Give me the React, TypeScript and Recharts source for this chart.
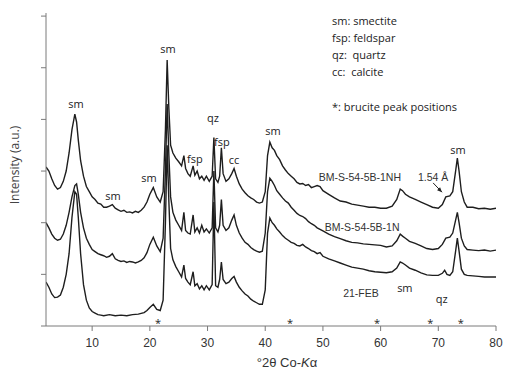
import { LineChart, Line, XAxis, YAxis, ReferenceDot, ReferenceLine } from "recharts"

// 2θ (°) and intensity (a.u., offset traces)
const trace1NH: [number, number][] = [
  [2, 3.08], [2.5, 3.0], [3, 2.85], [3.5, 2.72], [4, 2.65], [4.5, 2.68], [5, 2.8], [5.5, 3.0], [6, 3.35], [6.5, 3.8],
  [7, 4.1], [7.3, 3.95], [7.6, 3.6], [8, 3.2], [8.5, 2.9], [9, 2.7], [9.5, 2.6], [10, 2.5], [10.5, 2.45], [11, 2.38],
  [11.5, 2.36], [12, 2.3], [12.5, 2.3], [13, 2.32], [13.5, 2.35], [14, 2.28], [14.5, 2.25], [15, 2.22], [15.5, 2.24],
  [16, 2.2], [16.5, 2.21], [17, 2.19], [17.5, 2.22], [18, 2.2], [18.5, 2.24], [19, 2.3], [19.5, 2.4], [20, 2.55],
  [20.6, 2.68], [21.2, 2.5], [21.8, 2.4], [22.3, 2.6], [22.7, 3.8], [23, 5.15], [23.3, 4.2], [23.6, 3.5], [24, 3.35],
  [24.5, 3.25], [25, 3.18], [25.5, 3.1], [25.9, 3.3], [26.2, 3.05], [26.6, 2.95], [27, 2.9], [27.5, 3.1], [27.8, 2.92],
  [28.2, 3.0], [28.6, 2.85], [29, 2.9], [29.4, 2.82], [29.8, 2.9], [30.3, 2.8], [30.8, 2.9], [31.1, 3.65], [31.4, 2.85],
  [31.8, 2.78], [32.1, 2.9], [32.4, 3.45], [32.7, 2.95], [33.2, 2.8], [33.7, 2.85], [34.2, 2.95], [34.6, 3.05],
  [35, 2.9], [35.5, 2.75], [36, 2.65], [36.5, 2.58], [37, 2.52], [37.5, 2.48], [38, 2.45], [38.5, 2.4], [39, 2.38],
  [39.5, 2.4], [40, 2.6], [40.4, 3.3], [40.8, 3.56], [41.2, 3.45], [41.6, 3.4], [42, 3.3], [42.5, 3.22], [43, 3.1],
  [43.5, 3.02], [44, 2.95], [44.5, 2.9], [45, 2.85], [45.5, 2.78], [46, 2.75], [46.5, 2.76], [47, 2.72], [47.5, 2.74],
  [48, 2.68], [48.5, 2.7], [49, 2.72], [49.5, 2.7], [50, 2.62], [51, 2.55], [52, 2.48], [53, 2.42], [54, 2.4],
  [55, 2.36], [56, 2.34], [57, 2.32], [58, 2.3], [59, 2.3], [60, 2.28], [61, 2.28], [62, 2.32], [62.8, 2.45],
  [63.4, 2.65], [63.8, 2.62], [64.3, 2.55], [65, 2.5], [66, 2.45], [67, 2.4], [68, 2.35], [69, 2.3], [70, 2.28],
  [70.7, 2.35], [71.3, 2.5], [72, 2.52], [72.5, 2.6], [73, 3.0], [73.3, 3.25], [73.6, 3.0], [74, 2.6], [74.5, 2.4],
  [75, 2.3], [76, 2.3], [77, 2.27], [78, 2.28], [79, 2.26], [80, 2.28],
]

const trace1N: [number, number][] = [
  [2, 2.0], [2.5, 1.9], [3, 1.78], [3.5, 1.7], [4, 1.66], [4.5, 1.68], [5, 1.78], [5.5, 1.95], [6, 2.2], [6.5, 2.5],
  [7, 2.72], [7.3, 2.75], [7.6, 2.55], [8, 2.2], [8.5, 1.9], [9, 1.7], [9.5, 1.58], [10, 1.48], [10.5, 1.44], [11, 1.4],
  [11.5, 1.38], [12, 1.36], [12.5, 1.33], [13, 1.35], [13.5, 1.4], [14, 1.3], [14.5, 1.27], [15, 1.25], [15.5, 1.26],
  [16, 1.23], [16.5, 1.25], [17, 1.24], [17.5, 1.22], [18, 1.24], [18.5, 1.27], [19, 1.32], [19.5, 1.42], [20, 1.58],
  [20.6, 1.72], [21.2, 1.55], [21.8, 1.44], [22.3, 1.7], [22.7, 3.0], [23, 4.3], [23.3, 3.3], [23.6, 2.5], [24, 2.2],
  [24.5, 2.05], [25, 1.95], [25.5, 1.85], [25.9, 2.2], [26.2, 1.85], [26.6, 1.8], [27, 1.78], [27.5, 2.15], [27.8, 1.82],
  [28.2, 1.9], [28.6, 1.8], [29, 1.95], [29.4, 1.82], [29.8, 1.88], [30.3, 1.8], [30.8, 1.9], [31.1, 3.0], [31.4, 1.9],
  [31.8, 1.82], [32.1, 1.95], [32.4, 2.45], [32.7, 1.95], [33.2, 1.85], [33.7, 1.9], [34.2, 2.05], [34.6, 2.15],
  [35, 1.95], [35.5, 1.8], [36, 1.7], [36.5, 1.62], [37, 1.58], [37.5, 1.52], [38, 1.48], [38.5, 1.45], [39, 1.43],
  [39.5, 1.45], [40, 1.8], [40.4, 2.6], [40.8, 2.86], [41.2, 2.8], [41.6, 2.72], [42, 2.62], [42.5, 2.55], [43, 2.48],
  [43.5, 2.42], [44, 2.38], [44.5, 2.3], [45, 2.24], [45.5, 2.18], [46, 2.14], [46.5, 2.12], [47, 2.08], [47.5, 2.02],
  [48, 1.98], [48.5, 1.95], [49, 1.9], [49.5, 1.87], [50, 1.84], [51, 1.78], [52, 1.73], [53, 1.69], [54, 1.65],
  [55, 1.62], [56, 1.61], [57, 1.59], [58, 1.58], [59, 1.57], [60, 1.56], [61, 1.53], [62, 1.55], [62.8, 1.65],
  [63.4, 1.78], [63.8, 1.74], [64.3, 1.7], [65, 1.64], [66, 1.6], [67, 1.55], [68, 1.5], [69, 1.48], [70, 1.5],
  [70.7, 1.58], [71.3, 1.7], [72, 1.72], [72.5, 1.8], [73, 2.05], [73.3, 2.2], [73.6, 2.0], [74, 1.7], [74.5, 1.55],
  [75, 1.48], [76, 1.47], [77, 1.46], [78, 1.47], [79, 1.45], [80, 1.47],
]

const trace21FEB: [number, number][] = [
  [2, 0.85], [2.5, 0.75], [3, 0.62], [3.5, 0.55], [4, 0.56], [4.5, 0.6], [5, 0.75], [5.5, 1.0], [6, 1.4], [6.5, 2.1],
  [7, 2.6], [7.3, 2.55], [7.6, 2.1], [8, 1.4], [8.5, 0.8], [9, 0.5], [9.5, 0.35], [10, 0.28], [10.5, 0.25], [11, 0.22],
  [11.5, 0.21], [12, 0.2], [13, 0.22], [14, 0.2], [15, 0.21], [16, 0.2], [17, 0.22], [18, 0.23], [19, 0.26],
  [19.5, 0.3], [20, 0.36], [20.6, 0.42], [21.2, 0.32], [21.8, 0.3], [22.3, 0.5], [22.7, 2.0], [23, 3.5], [23.3, 2.4],
  [23.6, 1.5], [24, 1.28], [24.5, 1.15], [25, 1.05], [25.5, 0.95], [25.9, 1.18], [26.2, 0.92], [26.6, 0.85], [27, 0.8],
  [27.5, 1.05], [27.8, 0.78], [28.2, 0.82], [28.6, 0.72], [29, 0.78], [29.4, 0.7], [29.8, 0.78], [30.3, 0.7],
  [30.8, 0.8], [31.1, 2.4], [31.4, 0.78], [31.8, 0.75], [32.1, 0.9], [32.4, 1.24], [32.7, 0.9], [33.2, 0.82],
  [33.7, 0.85], [34.2, 0.92], [34.6, 0.96], [35, 0.85], [35.5, 0.75], [36, 0.68], [36.5, 0.62], [37, 0.58],
  [37.5, 0.52], [38, 0.48], [38.5, 0.45], [39, 0.42], [39.5, 0.42], [40, 0.7], [40.4, 1.8], [40.8, 2.09], [41.2, 2.0],
  [41.6, 1.95], [42, 1.88], [42.5, 1.82], [43, 1.75], [43.5, 1.7], [44, 1.66], [44.5, 1.62], [45, 1.6], [45.5, 1.56],
  [46, 1.55], [46.5, 1.58], [47, 1.53], [47.5, 1.5], [48, 1.46], [48.5, 1.44], [49, 1.4], [49.5, 1.42], [50, 1.35],
  [51, 1.3], [52, 1.26], [53, 1.22], [54, 1.18], [55, 1.14], [56, 1.12], [57, 1.1], [58, 1.07], [59, 1.05], [60, 1.04],
  [61, 1.03], [62, 1.05], [62.8, 1.12], [63.4, 1.24], [63.8, 1.22], [64.3, 1.18], [65, 1.12], [66, 1.08], [67, 1.03],
  [68, 0.99], [69, 0.98], [70, 0.98], [70.7, 1.02], [71.1, 1.08], [71.5, 1.0], [72, 0.98], [72.5, 1.05], [73, 1.45],
  [73.3, 1.7], [73.6, 1.45], [74, 1.1], [74.5, 1.0], [75, 0.98], [76, 0.97], [77, 0.96], [78, 0.95], [79, 0.95],
  [80, 0.95],
]

const xTicks = [10, 20, 30, 40, 50, 60, 70, 80]
const yTicks = [0, 1, 2, 3, 4, 5, 6]

// phase labels: [text, 2θ, intensity]
const peakLabels: [string, number, number][] = [
  ["sm", 7.2, 4.3], ["sm", 13.6, 2.52], ["sm", 19.85, 2.87], ["sm", 23.15, 5.36], ["fsp", 27.8, 3.23],
  ["qz", 30.95, 4.03], ["fsp", 32.5, 3.56], ["cc", 34.6, 3.21], ["sm", 41.35, 3.78], ["sm", 73.4, 3.41],
  ["sm", 64.2, 0.74], ["qz", 70.6, 0.52],
]
const sampleLabels: [string, number, number][] = [
  ["BM-S-54-5B-1NH", 56.4, 2.87], ["BM-S-54-5B-1N", 56.8, 1.92], ["21-FEB", 56.6, 0.64], ["1.54 Å", 69.1, 2.87],
]
const bruciteAt = [21.4, 44.3, 59.4, 68.6, 73.9]
const arrowFrom = { x: 69.1, y: 2.77 }
const arrowTo = { x: 70.65, y: 2.59 }

const legendLines = ["sm: smectite", "fsp: feldspar", "qz:  quartz", "cc:  calcite"]

const toPoints = (t: [number, number][]) => t.map(([x, y]) => ({ x, y }))

const lineColor = "#1e1e1e"
const font = "'Open Sans', sans-serif"
const arial = "'Liberation Sans', Arial, sans-serif"

const ArrowHead = (props: any) => {
  const { cx, cy } = props
  if (cx == null || cy == null) return <g />
  return <polygon points={`${cx},${cy} ${cx - 5},${cy - 2} ${cx - 2},${cy - 5}`} fill="#222" />
}

export default function App() {
  return (
    <div style={{ position: "absolute", left: 0, top: 0, width: 505, height: 370, background: "#fff" }}>
      <LineChart width={505} height={370} margin={{ top: 13, right: 9, bottom: 0, left: 0 }}>
        <XAxis
          type="number"
          dataKey="x"
          domain={[2, 80]}
          ticks={xTicks}
          allowDataOverflow
          height={44}
          stroke="#7a7a7a"
          tickSize={5}
          tickMargin={7}
          tick={{ fill: "#333", fontSize: 12, fontFamily: arial }}
        />
        <YAxis
          type="number"
          domain={[0, 6.06]}
          ticks={yTicks}
          width={46}
          stroke="#7a7a7a"
          tickSize={5}
          tickFormatter={() => ""}
        />
        <Line data={toPoints(trace1NH)} dataKey="y" stroke={lineColor} strokeWidth={1.4} dot={false} isAnimationActive={false} />
        <Line data={toPoints(trace1N)} dataKey="y" stroke={lineColor} strokeWidth={1.4} dot={false} isAnimationActive={false} />
        <Line data={toPoints(trace21FEB)} dataKey="y" stroke={lineColor} strokeWidth={1.4} dot={false} isAnimationActive={false} />
        {peakLabels.map(([t, x, y], i) => (
          <ReferenceDot
            key={"p" + i}
            x={x}
            y={y}
            r={0}
            stroke="none"
            label={{ value: t, position: "center", fill: "#222", fontSize: 11, fontFamily: font }}
          />
        ))}
        {sampleLabels.map(([t, x, y], i) => (
          <ReferenceDot
            key={"s" + i}
            x={x}
            y={y}
            r={0}
            stroke="none"
            label={{ value: t, position: "center", fill: "#333", fontSize: 10.5, fontFamily: arial }}
          />
        ))}
        {bruciteAt.map((x, i) => (
          <ReferenceDot
            key={"b" + i}
            x={x}
            y={0.05}
            r={0}
            stroke="none"
            label={{ value: "*", position: "center", fill: "#222", fontSize: 11, fontFamily: font }}
          />
        ))}
        <ReferenceLine segment={[arrowFrom, arrowTo]} stroke="#222" strokeWidth={1} />
        <ReferenceDot x={arrowTo.x} y={arrowTo.y} shape={ArrowHead} />
      </LineChart>
      <div
        style={{
          position: "absolute",
          left: 14,
          top: 165,
          transform: "translate(-50%, -50%) rotate(-90deg)",
          whiteSpace: "nowrap",
          fontFamily: font,
          fontSize: 12,
          color: "#444",
        }}
      >
        Intensity (a.u.)
      </div>
      <div
        style={{
          position: "absolute",
          left: 287,
          top: 362,
          transform: "translate(-50%, -50%)",
          whiteSpace: "nowrap",
          fontFamily: arial,
          fontSize: 13,
          color: "#333",
        }}
      >
        °2θ Co-<i>K</i>α
      </div>
      <div style={{ position: "absolute", left: 332, top: 12, fontFamily: font, fontSize: 11, color: "#222", lineHeight: "17px", whiteSpace: "pre" }}>
        {legendLines.map((l) => (
          <div key={l}>{l}</div>
        ))}
        <div style={{ marginTop: 18 }}>*: brucite peak positions</div>
      </div>
    </div>
  )
}
